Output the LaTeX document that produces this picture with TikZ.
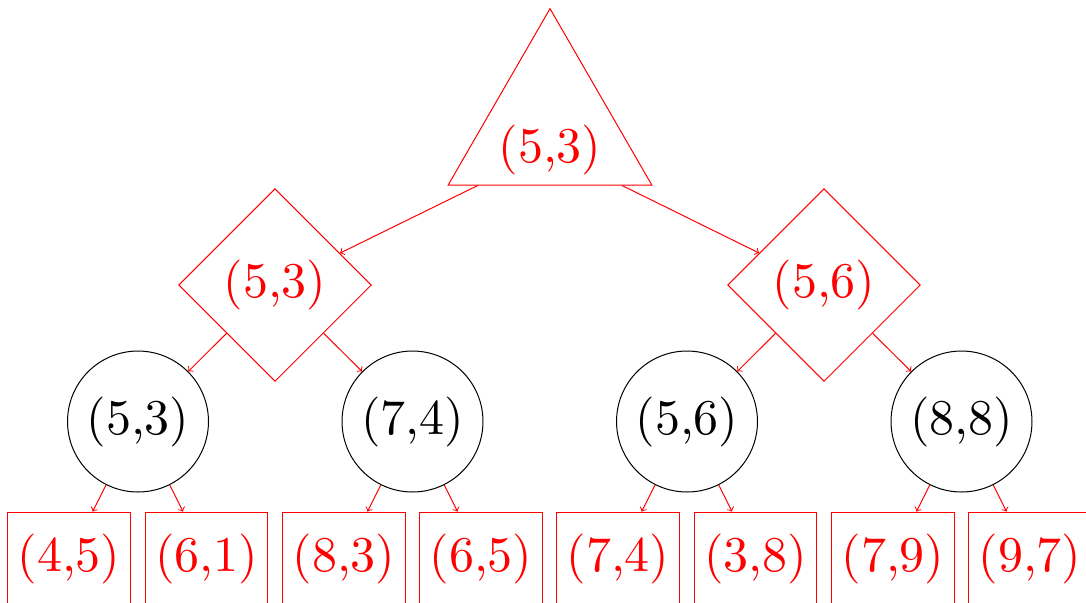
\documentclass[tikz,border=0pt]{standalone}
\usepackage{graphicx}
\usetikzlibrary{shapes.geometric}
\newcommand{\lbl}[1]{\scalebox{2.5}{#1}}
\begin{document}
\begin{tikzpicture}[x=0.5pt,y=-0.5pt,
  every node/.style={font=\fontsize{10pt}{12pt}\selectfont, inner sep=5pt, line width=0.5pt},
  tri/.style={isosceles triangle, isosceles triangle apex angle=60, shape border rotate=90, draw=red, text=red},
  dia/.style={diamond, aspect=1, draw=red, text=red},
  circ/.style={circle, draw=black, text=black},
  leaf/.style={rectangle, draw=red, text=red, minimum width=61pt, minimum height=46.5pt},
  edge/.style={draw=red, ->, line width=0.5pt}]
\useasboundingbox (0,0) rectangle (1086,602);
\node[tri] (t) at (550,150) {\lbl{(5,3)}};
\node[dia] (d1) at (275,285) {\lbl{(5,3)}};
\node[dia] (d2) at (824,285) {\lbl{(5,6)}};
\node[circ] (c1) at (138,421.5) {\lbl{(5,3)}};
\node[circ] (c2) at (412.5,421.5) {\lbl{(7,4)}};
\node[circ] (c3) at (687,421.5) {\lbl{(5,6)}};
\node[circ] (c4) at (961.5,421.5) {\lbl{(8,8)}};
\node[leaf] (l1) at (69,558.5) {\lbl{(4,5)}};
\node[leaf] (l2) at (206.5,558.5) {\lbl{(6,1)}};
\node[leaf] (l3) at (344,558.5) {\lbl{(8,3)}};
\node[leaf] (l4) at (481,558.5) {\lbl{(6,5)}};
\node[leaf] (l5) at (618,558.5) {\lbl{(7,4)}};
\node[leaf] (l6) at (755.5,558.5) {\lbl{(3,8)}};
\node[leaf] (l7) at (893,558.5) {\lbl{(7,9)}};
\node[leaf] (l8) at (1030,558.5) {\lbl{(9,7)}};
\draw[edge] (t) -- (d1);
\draw[edge] (t) -- (d2);
\draw[edge] (d1) -- (c1);
\draw[edge] (d1) -- (c2);
\draw[edge] (d2) -- (c3);
\draw[edge] (d2) -- (c4);
\draw[edge] (c1) -- (l1);
\draw[edge] (c1) -- (l2);
\draw[edge] (c2) -- (l3);
\draw[edge] (c2) -- (l4);
\draw[edge] (c3) -- (l5);
\draw[edge] (c3) -- (l6);
\draw[edge] (c4) -- (l7);
\draw[edge] (c4) -- (l8);
\end{tikzpicture}
\end{document}
